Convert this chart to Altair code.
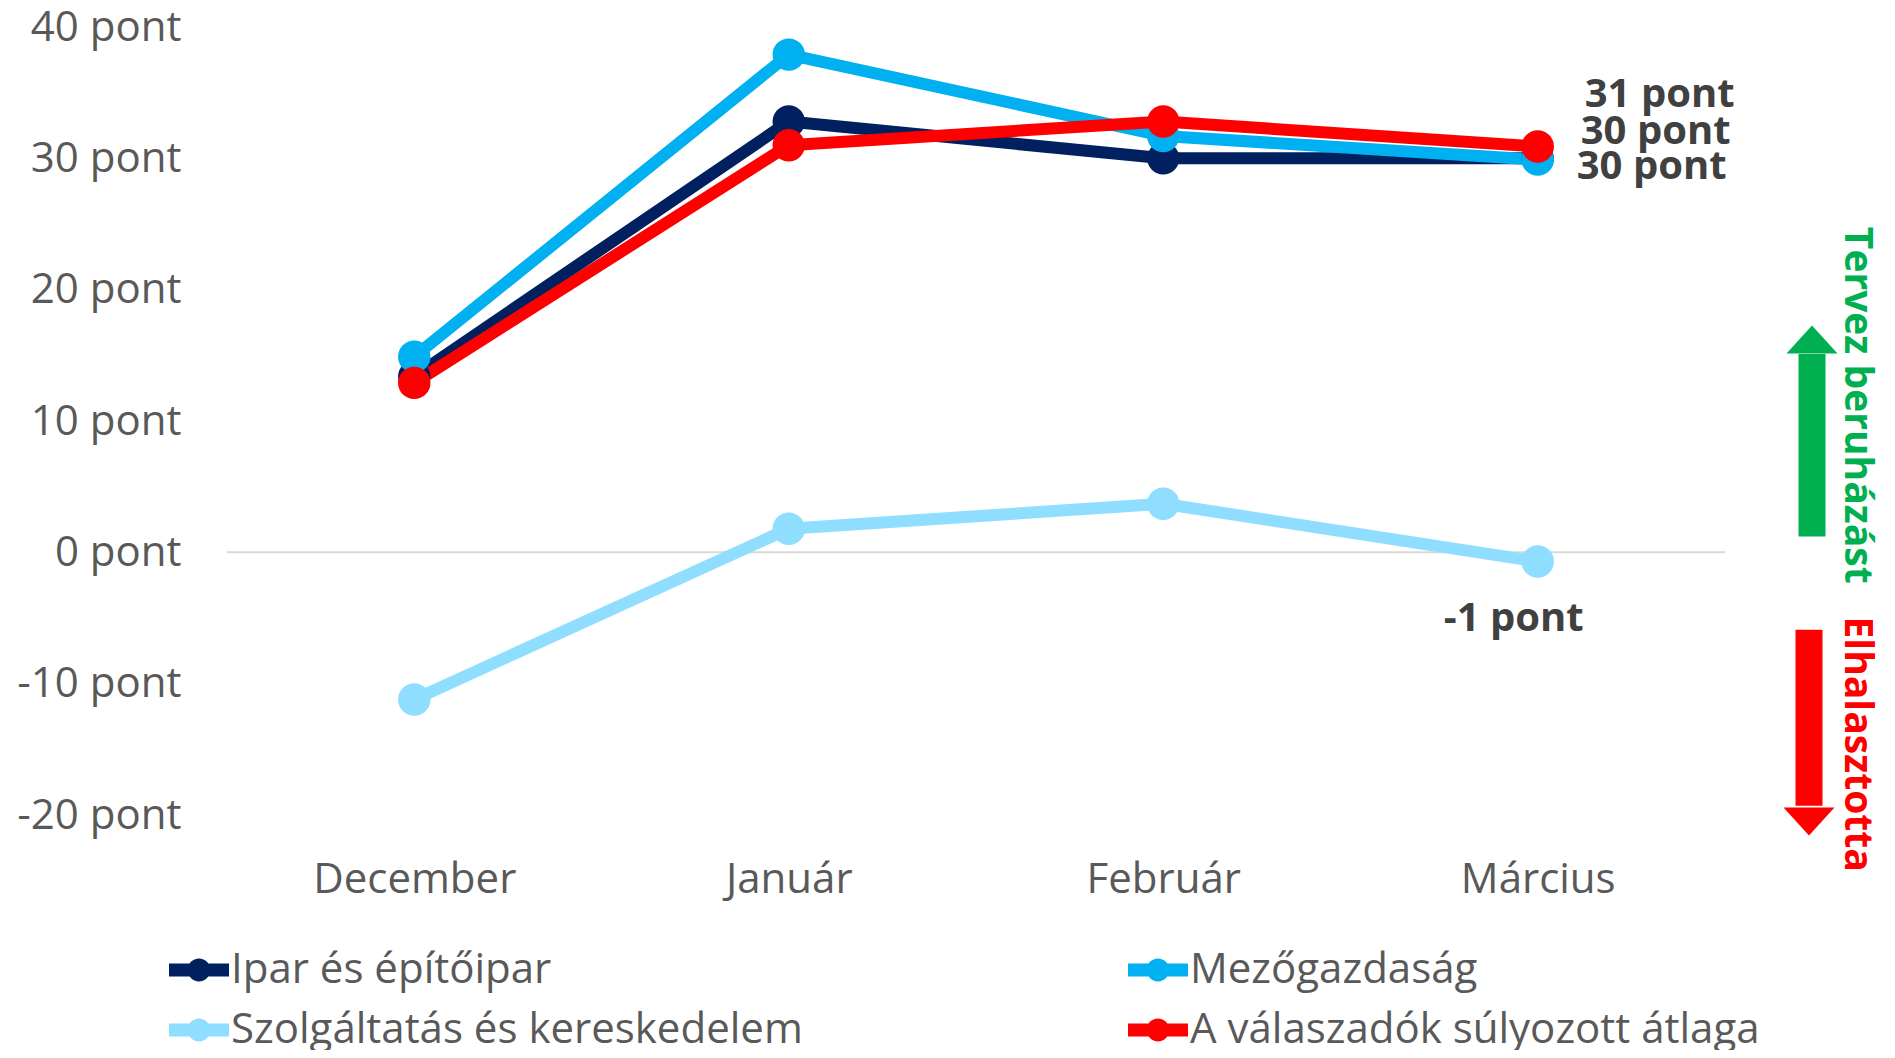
import altair as alt
import pandas as pd

months = ["December", "Január", "Február", "Március"]
series_names = ["Ipar és építőipar", "Mezőgazdaság",
                "Szolgáltatás és kereskedelem", "A válaszadók súlyozott átlaga"]
colors = ["#002060", "#00B0F0", "#8FDDFF", "#FF0000"]
ipar = [13.4, 32.8, 30.0, 30.0]
mezo = [14.9, 37.9, 31.7, 29.9]
szolg = [-11.2, 1.8, 3.7, -0.7]
atlag = [12.9, 31.0, 32.8, 30.9]
values = [ipar, mezo, szolg, atlag]
y_ticks = [-20, -10, 0, 10, 20, 30, 40]
up_text = "Tervez beruházást"
down_text = "Elhalasztotta"

FONT = "Open Sans"
TXT = "#595959"
LAB = "#404040"

# drawing order (back to front): Szolgáltatás, Ipar, Mezőgazdaság, Átlag
draw_order = [2, 0, 1, 3]
rows = []
for s in draw_order:
    for i, m in enumerate(months):
        rows.append({"series": series_names[s], "month": m, "idx": i,
                     "value": values[s][i], "label": f"{values[s][i]:.0f} pont"})
df = pd.DataFrame(rows)

PW, PH = 1498, 788
x_enc = alt.X("month:N", sort=months,
              scale=alt.Scale(type="point", padding=0.5, domain=months),
              axis=alt.Axis(title=None, labelFontSize=42, labelColor=TXT, labelFont=FONT,
                            ticks=False, domain=False, grid=False, labelPadding=44,
                            labelAngle=0, labelLimit=0))
y_scale = alt.Scale(domain=[-20, 40], nice=False, zero=False)
y_axis = alt.Axis(title=None, values=y_ticks, labelExpr="datum.value + ' pont'",
                  labelFontSize=42, labelColor=TXT, labelFont=FONT,
                  ticks=False, domain=False, grid=False, labelPadding=46, labelLimit=0)


def Y(field):
    return alt.Y(field, scale=y_scale, axis=y_axis)


# the legend grid fills column by column: order so that rows read
# "Ipar | Mezőgazdaság" and "Szolgáltatás | Átlag"
legend_order = [0, 2, 1, 3]
color_scale = alt.Scale(domain=[series_names[i] for i in legend_order],
                        range=[colors[i] for i in legend_order])
legend_symbol = ("M-1,-0.22H1V0.22H-1Z "
                 "M-0.38,0A0.38,0.38 0 1,1 0.38,0A0.38,0.38 0 1,1 -0.38,0Z")
legend = alt.Legend(title=None, orient="none", legendX=-58, legendY=913,
                    columns=2, columnPadding=325, rowPadding=9,
                    symbolType=legend_symbol, symbolSize=3600,
                    symbolStrokeWidth=0,
                    labelFontSize=42, labelFont=FONT, labelColor=TXT,
                    labelOffset=2, padding=0, labelLimit=0)
color_enc = alt.Color("series:N", scale=color_scale, legend=legend)

base = alt.Chart(df)

zero = alt.Chart(pd.DataFrame({"value": [0]})).mark_rule(color="#D9D9D9", strokeWidth=2).encode(
    y=Y("value:Q"))

lines = base.mark_line(strokeWidth=12, strokeJoin="round").encode(
    x=x_enc, y=Y("value:Q"), color=color_enc, order=alt.Order("idx:Q"))

points = base.mark_circle(size=1050, opacity=1).encode(
    x=x_enc, y=Y("value:Q"), color=color_enc)

layers = [zero, lines, points]

# end-of-series value labels (styling offsets only)
label_style = {
    series_names[3]: dict(dx=47, dy=-52, align="left"),
    series_names[1]: dict(dx=43, dy=-28, align="left"),
    series_names[0]: dict(dx=39, dy=9, align="left"),
    series_names[2]: dict(dx=-24, dy=57, align="center"),
}
for name, st in label_style.items():
    layers.append(
        base.transform_filter((alt.datum.series == name) & (alt.datum.month == months[-1]))
        .mark_text(fontSize=40, fontWeight="bold", font=FONT, color=LAB,
                   baseline="middle", **st)
        .encode(x=x_enc, y=Y("value:Q"), text="label:N"))

# side annotation arrows
arrow_df = pd.DataFrame({"kind": ["up", "down"], "y0": [1.2, -5.9], "y1": [15.1, -19.3],
                         "head": [16.2, -20.5], "mid": [11.2, -14.6],
                         "text": [up_text, down_text]})
ab = alt.Chart(arrow_df)
for kind, col, xpx, path in [("up", "#00B050", 1585, "M-1,0.55L0,-0.55L1,0.55Z"),
                             ("down", "#FF0000", 1582, "M-1,-0.55L0,0.55L1,-0.55Z")]:
    f = ab.transform_filter(alt.datum.kind == kind)
    layers.append(f.mark_rule(color=col, strokeWidth=27, strokeCap="butt").encode(
        x=alt.value(xpx), y=Y("y0:Q"), y2="y1:Q"))
    layers.append(f.mark_point(shape=path, filled=True, size=2601, opacity=1,
                               color=col, strokeWidth=0).encode(
        x=alt.value(xpx), y=Y("head:Q")))
    layers.append(f.mark_text(angle=90, fontSize=39, fontWeight="bold", font=FONT,
                              color=col, align="center", baseline="middle").encode(
        x=alt.value(1630), y=Y("mid:Q"), text="text:N"))

chart = alt.layer(*layers).properties(
    width=PW, height=PH,
    autosize=alt.AutoSizeParams(type="none"),
    padding={"left": 219, "top": 19, "right": 160, "bottom": 235},
).configure(font=FONT).configure_view(stroke=None)

chart.save("out.html", embed_options={"renderer": "svg", "actions": False})
